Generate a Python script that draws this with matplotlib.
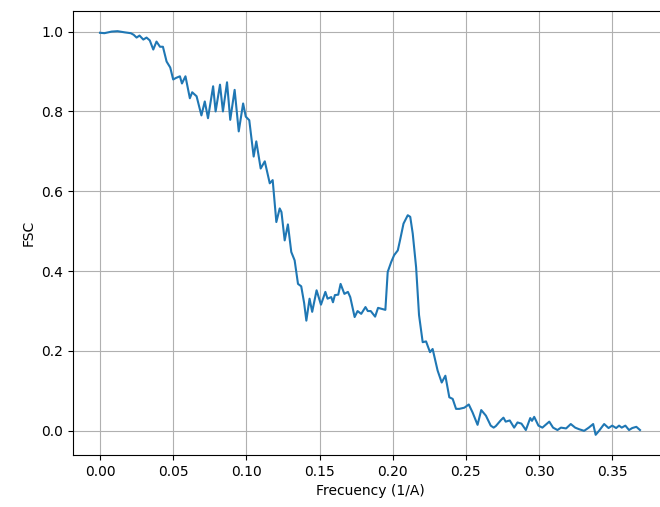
import matplotlib
matplotlib.use("Agg")
import matplotlib.pyplot as plt

freq = [0.000, 0.003, 0.008, 0.012, 0.017, 0.021, 0.023, 0.025, 0.027, 0.0296,
        0.0318, 0.034, 0.0364, 0.0386, 0.041, 0.043, 0.0455, 0.048, 0.050, 0.052,
        0.0546, 0.056, 0.0584, 0.0614, 0.063, 0.066, 0.0693, 0.0716, 0.0738, 0.0773,
        0.079, 0.082, 0.084, 0.0868, 0.089, 0.092, 0.0948, 0.0978, 0.0996, 0.102,
        0.105, 0.1068, 0.1098, 0.1126, 0.116, 0.118, 0.1205, 0.1228, 0.1240, 0.1262,
        0.1284, 0.1307, 0.1330, 0.1353, 0.1375, 0.1395, 0.1410, 0.1432, 0.1450, 0.1480,
        0.1510, 0.1540, 0.1555, 0.1580, 0.1592, 0.1605, 0.1628, 0.1644, 0.1670, 0.1694,
        0.1710, 0.1740, 0.1760, 0.1785, 0.1814, 0.1830, 0.1850, 0.1880, 0.1900, 0.1930,
        0.1950, 0.1966, 0.1990, 0.2010, 0.2035, 0.2050, 0.2074, 0.2103, 0.2120, 0.2137,
        0.2160, 0.2180, 0.2205, 0.2228, 0.2255, 0.2273, 0.2307, 0.2335, 0.2360, 0.2387,
        0.2410, 0.2433, 0.2455, 0.2490, 0.2520, 0.2546, 0.2580, 0.2605, 0.2637, 0.2670,
        0.2690, 0.2705, 0.2740, 0.2757, 0.2772, 0.2800, 0.2830, 0.2853, 0.2880, 0.2910,
        0.2940, 0.2952, 0.2967, 0.2996, 0.3023, 0.3070, 0.3096, 0.3126, 0.3150, 0.3185,
        0.3217, 0.3247, 0.3274, 0.3308, 0.3340, 0.3370, 0.3387, 0.3410, 0.3445, 0.3475,
        0.3500, 0.3527, 0.3547, 0.3565, 0.3590, 0.3615, 0.3637, 0.3665, 0.3690]

fsc = [0.997, 0.996, 1.000, 1.001, 0.998, 0.996, 0.992, 0.985, 0.990, 0.980,
       0.985, 0.978, 0.955, 0.975, 0.962, 0.962, 0.925, 0.910, 0.880, 0.884,
       0.888, 0.870, 0.888, 0.833, 0.848, 0.838, 0.790, 0.825, 0.783, 0.863,
       0.800, 0.867, 0.800, 0.873, 0.779, 0.854, 0.750, 0.820, 0.787, 0.778,
       0.687, 0.725, 0.657, 0.675, 0.620, 0.628, 0.523, 0.557, 0.548, 0.477,
       0.517, 0.448, 0.427, 0.368, 0.362, 0.320, 0.276, 0.331, 0.298, 0.352,
       0.316, 0.348, 0.331, 0.335, 0.322, 0.340, 0.341, 0.368, 0.343, 0.348,
       0.335, 0.285, 0.300, 0.293, 0.310, 0.300, 0.300, 0.286, 0.308, 0.305,
       0.303, 0.398, 0.423, 0.440, 0.452, 0.477, 0.519, 0.540, 0.536, 0.494,
       0.410, 0.290, 0.222, 0.224, 0.197, 0.205, 0.151, 0.121, 0.138, 0.084,
       0.080, 0.055, 0.055, 0.058, 0.066, 0.046, 0.015, 0.052, 0.038, 0.013,
       0.008, 0.012, 0.027, 0.033, 0.023, 0.026, 0.008, 0.021, 0.018, 0.002,
       0.032, 0.025, 0.035, 0.013, 0.008, 0.023, 0.008, 0.002, 0.008, 0.006,
       0.017, 0.008, 0.004, 0.000, 0.008, 0.017, -0.010, 0.000, 0.017, 0.007,
       0.013, 0.007, 0.013, 0.008, 0.013, 0.002, 0.007, 0.010, 0.002]

fig = plt.figure(figsize=(6.6, 5.07), dpi=100)
ax = fig.add_axes([73 / 660, 52 / 507, 594 / 660, 444 / 507])
ax.plot(freq, fsc, color="#1f77b4", linewidth=1.5)
ax.grid(True)
ax.set_xlabel("Frecuency (1/A)")
ax.set_ylabel("FSC")
fig.savefig("out.png", dpi=100)
